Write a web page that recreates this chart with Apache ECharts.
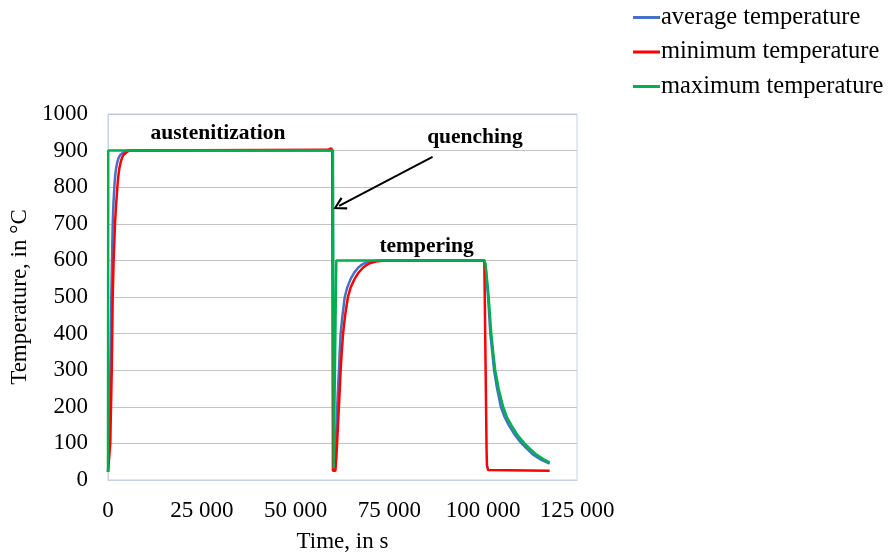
<!DOCTYPE html>
<html>
<head>
<meta charset="utf-8">
<script src="https://cdn.jsdelivr.net/npm/echarts@6/dist/echarts.min.js"></script>
<style>
html,body{margin:0;padding:0;background:#fff;}
#chart{width:889px;height:558px;}
</style>
</head>
<body>
<div id="chart"></div>
<script>
// ---- Data (time in s, temperature in °C) ----
var seriesNames = ['average temperature', 'minimum temperature', 'maximum temperature'];

var avgTime = [0, 200, 400, 550, 700, 800, 890, 1070, 1250, 1450, 1690, 1900, 2130, 2450, 2840, 3250, 3700, 4300, 4970,
  59900, 60050, 60400, 60600, 60800, 61100, 61300, 61550, 61750, 62000, 62500, 63100, 63800, 64700, 65600, 66650, 67600, 68500, 70200, 72000,
  100300, 100550, 100850, 101050, 101300, 101600, 101900, 102400, 102900, 103700, 104700, 105700, 106800, 108500, 110200, 111700, 113200, 115500, 117700];
var avgTemp = [22, 80, 150, 250, 350, 430, 500, 600, 700, 755, 800, 830, 850, 867, 880, 888, 893, 897, 900,
  900, 40, 40, 80, 120, 200, 250, 300, 350, 400, 450, 500, 527, 550, 566, 580, 588, 593, 598, 600,
  600, 590, 560, 530, 500, 450, 400, 350, 300, 250, 200, 172, 150, 122, 100, 85, 70, 55, 45];

var minTime = [0, 300, 600, 800, 1000, 1130, 1250, 1500, 1870, 2150, 2490, 2750, 3000, 3350, 3730, 4100, 4500, 5100, 5860,
  58500, 59500, 59800, 59950, 60600, 60850, 61050, 61300, 61550, 61780, 62000, 62300, 62650, 63200, 63950, 64700, 65750, 66800, 67950, 69000, 70000, 71950, 74000,
  100300, 100900, 101000, 101300, 101700, 117700];
var minTemp = [22, 60, 100, 200, 300, 400, 500, 600, 700, 750, 800, 830, 850, 867, 880, 888, 893, 897, 900,
  902, 906, 900, 25, 25, 60, 100, 150, 200, 250, 300, 350, 400, 450, 500, 527, 550, 567, 580, 588, 593, 598, 600,
  600, 80, 40, 27, 25, 25];

var maxTime = [0, 60, 59950, 60150, 60850, 100300, 100600, 100900, 101200, 101450, 101800, 102150, 102650, 103200, 104100, 105300, 106300, 107500, 109200, 111000, 112500, 114100, 116000, 117700];
var maxTemp = [22, 900, 900, 32, 600, 600, 590, 560, 530, 500, 450, 400, 350, 300, 250, 200, 172, 150, 122, 100, 85, 70, 57, 48];

var xTicks = [0, 25000, 50000, 75000, 100000, 125000];
var yTicks = [0, 100, 200, 300, 400, 500, 600, 700, 800, 900, 1000];

var annotations = [
  {text: 'austenitization', t: 29300, T: 948},
  {text: 'quenching', t: 97800, T: 937},
  {text: 'tempering', t: 84900, T: 637}
];
var arrowFrom = [86500, 883];
var arrowTo = [61600, 749];

function zip(ts, vs) { return ts.map(function (t, i) { return [t, vs[i]]; }); }

var colors = ['#4472C4', '#FF0000', '#00B050'];
var FONT = '"Liberation Serif", "Times New Roman", serif';

var chart = echarts.init(document.getElementById('chart'), null, {renderer: 'canvas'});

var lineSeries = [zip(avgTime, avgTemp), zip(minTime, minTemp), zip(maxTime, maxTemp)].map(function (d, i) {
  return {
    name: seriesNames[i],
    type: 'line',
    data: d,
    showSymbol: false,
    symbol: 'none',
    smooth: false,
    lineStyle: {color: colors[i], width: 2.5},
    itemStyle: {color: colors[i]},
    z: 2 + i,
    animation: false
  };
});

var annoSeries = {
  name: 'annotations',
  type: 'scatter',
  data: annotations.map(function (a) { return {value: [a.t, a.T], label: {formatter: a.text}}; }),
  symbolSize: 0,
  itemStyle: {color: '#000', opacity: 1},
  label: {
    show: true,
    position: 'inside',
    color: '#000',
    textBorderWidth: 0,
    fontFamily: FONT,
    fontWeight: 'bold',
    fontSize: 21.5
  },
  silent: true,
  z: 10,
  animation: false,
  markLine: {
    silent: true,
    symbol: ['none', 'path://M5,0 L10,8.2 L8.6,9 L5,2.6 L1.4,9 L0,8.2 Z'],
    symbolSize: [14, 13],
    lineStyle: {color: '#000', width: 2, type: 'solid', opacity: 1},
    label: {show: false},
    animation: false,
    data: [[{coord: arrowFrom}, {coord: arrowTo}]]
  }
};

chart.setOption({
  animation: false,
  backgroundColor: '#fff',
  textStyle: {fontFamily: FONT},
  grid: {left: 108, top: 114, right: 312, bottom: 78, show: true, borderColor: '#c6d3e6', borderWidth: 1, containLabel: false, outerBoundsMode: 'none'},
  legend: {
    data: seriesNames,
    orient: 'vertical',
    left: 633,
    top: 5,
    padding: 0,
    itemGap: 9.5,
    itemWidth: 27,
    itemHeight: 3,
    icon: 'rect',
    textStyle: {fontFamily: FONT, fontSize: 24.5, color: '#000', padding: [0, 0, 0, -4]}
  },
  xAxis: {
    type: 'value',
    min: 0,
    max: 125000,
    interval: 25000,
    name: 'Time, in s',
    nameLocation: 'middle',
    nameGap: 50,
    nameTextStyle: {fontFamily: FONT, fontSize: 23, color: '#000'},
    axisLine: {show: true, lineStyle: {color: '#c6d3e6'}},
    axisTick: {show: false},
    splitLine: {show: false},
    axisLabel: {
      fontFamily: FONT, fontSize: 23, color: '#000', margin: 19,
      formatter: function (v) { return String(v).replace(/\B(?=(\d{3})+(?!\d))/g, ' '); }
    }
  },
  yAxis: {
    type: 'value',
    min: 0,
    max: 1000,
    interval: 100,
    name: 'Temperature, in °C',
    nameLocation: 'middle',
    nameGap: 74,
    nameRotate: 90,
    nameTextStyle: {fontFamily: FONT, fontSize: 23, color: '#000'},
    axisLine: {show: true, lineStyle: {color: '#c6d3e6'}},
    axisTick: {show: false},
    splitLine: {show: true, lineStyle: {color: '#c4c4c4', width: 1}},
    axisLabel: {fontFamily: FONT, fontSize: 23, color: '#000', margin: 20, formatter: function (v) { return String(v); }}
  },
  series: lineSeries.concat([annoSeries])
});
</script>
</body>
</html>
